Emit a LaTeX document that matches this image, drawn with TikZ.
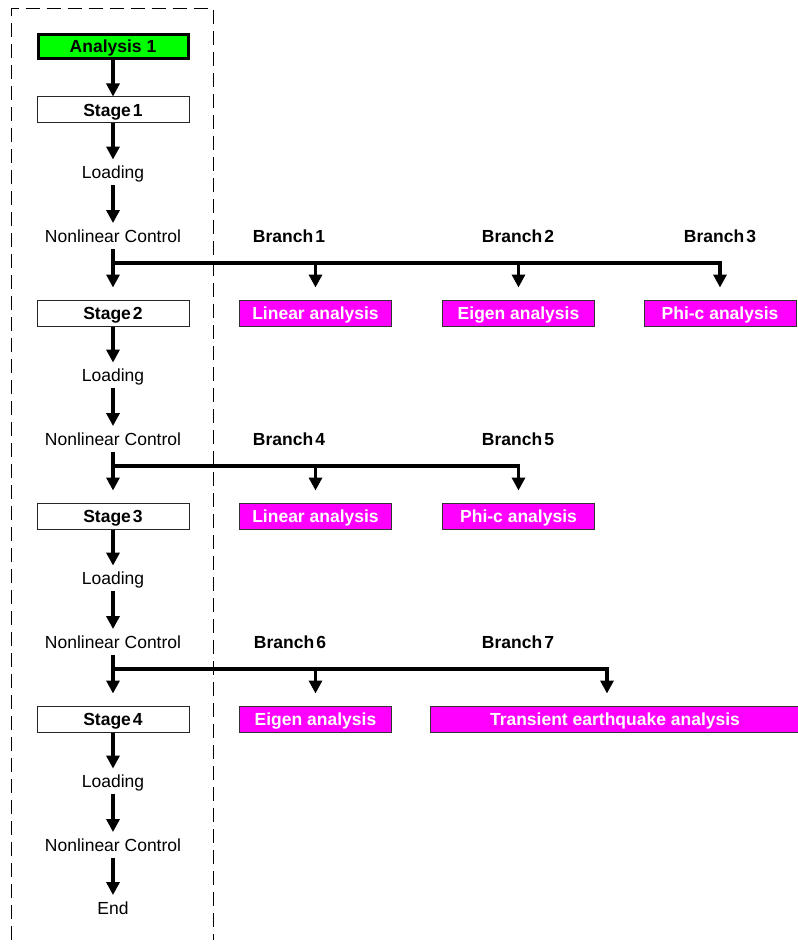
\documentclass[tikz,border=0pt]{standalone}
\usepackage{fontspec}
\setmainfont{Liberation Sans}
\usetikzlibrary{arrows.meta}
\definecolor{boxgreen}{rgb}{0,1,0}
\definecolor{boxmag}{rgb}{1,0,1}
\begin{document}
\begin{tikzpicture}[x=1pt,y=-1pt,
  every node/.style={font=\fontsize{17.5}{20}\selectfont, inner sep=0pt, text height=12.5pt, text depth=0pt},
  boldtext/.style={font=\fontsize{17.5}{20}\selectfont\bfseries},
  stagebox/.style={boldtext, draw=black!85, line width=1pt, fill=white, minimum width=152pt, minimum height=26pt},
  anbox/.style={boldtext, draw=black, line width=3pt, fill=boxgreen, minimum width=150pt, minimum height=24pt},
  magbox/.style={boldtext, text=white, draw=black!80, line width=1pt, fill=boxmag, minimum width=152pt, minimum height=26pt},
  conn/.style={line width=3.3pt, -{Triangle[width=13pt,length=13pt]}},
  frame/.style={line width=1pt, dash pattern=on 14pt off 7pt},
]
\useasboundingbox (0,0) rectangle (797,944);

% dashed frame
\draw[frame] (11.5,940) -- (11.5,9) -- (213.5,9) -- (213.5,940);

% main column
\node[anbox] (a1) at (113,46.5) {Analysis 1};

\node[stagebox] (s1) at (113,110) {Stage\hspace{2pt}1};
\node (ld1) at (113,172) {Loading};
\node (nc1) at (113,236) {Nonlinear Control};

\node[stagebox] (s2) at (113,313) {Stage\hspace{2pt}2};
\node (ld2) at (113,375) {Loading};
\node (nc2) at (113,439) {Nonlinear Control};

\node[stagebox] (s3) at (113,516) {Stage\hspace{2pt}3};
\node (ld3) at (113,578) {Loading};
\node (nc3) at (113,642) {Nonlinear Control};

\node[stagebox] (s4) at (113,719) {Stage\hspace{2pt}4};
\node (ld4) at (113,781) {Loading};
\node (nc4) at (113,845) {Nonlinear Control};
\node (end) at (113,908) {End};

% branch labels
\node[boldtext] (b1) at (289,236) {Branch\hspace{2pt}1};
\node[boldtext] (b2) at (518,236) {Branch\hspace{2pt}2};
\node[boldtext] (b3) at (720,236) {Branch\hspace{2pt}3};
\node[boldtext] (b4) at (289,439) {Branch\hspace{2pt}4};
\node[boldtext] (b5) at (518,439) {Branch\hspace{2pt}5};
\node[boldtext] (b6) at (290,642) {Branch\hspace{2pt}6};
\node[boldtext] (b7) at (518,642) {Branch\hspace{2pt}7};

% analysis boxes
\node[magbox] (m11) at (315.5,313) {Linear analysis};
\node[magbox] (m12) at (518.5,313) {Eigen analysis};
\node[magbox] (m13) at (720,313) {Phi-c analysis};
\node[magbox] (m21) at (315.5,516) {Linear analysis};
\node[magbox] (m22) at (518.5,516) {Phi-c analysis};
\node[magbox] (m31) at (315.5,719) {Eigen analysis};
\node[magbox, minimum width=370pt] (m32) at (615,719) {Transient earthquake analysis};

% junctions
\coordinate (j1) at (113,263);
\coordinate (j2) at (113,466);
\coordinate (j3) at (113,669);
\coordinate (t7) at ([xshift=-8pt]m32.north);

% main flow
\draw[conn] (a1) -- (s1);
\draw[conn, shorten >=6pt] (s1) -- (ld1);
\draw[conn, shorten <=7pt, shorten >=6.5pt] (ld1) -- (nc1);
\draw[conn, shorten <=7pt, shorten >=12pt] (nc1) -- (s2);
\draw[conn, shorten >=6pt] (s2) -- (ld2);
\draw[conn, shorten <=7pt, shorten >=6.5pt] (ld2) -- (nc2);
\draw[conn, shorten <=7pt, shorten >=12pt] (nc2) -- (s3);
\draw[conn, shorten >=6pt] (s3) -- (ld3);
\draw[conn, shorten <=7pt, shorten >=6.5pt] (ld3) -- (nc3);
\draw[conn, shorten <=7pt, shorten >=12pt] (nc3) -- (s4);
\draw[conn, shorten >=6pt] (s4) -- (ld4);
\draw[conn, shorten <=7pt, shorten >=6.5pt] (ld4) -- (nc4);
\draw[conn, shorten <=7pt, shorten >=6.5pt] (nc4) -- (end);

% branches
\draw[conn, shorten >=12pt] (j1) -| (m13);
\draw[conn, shorten >=12pt] (j1 -| m11) -- (m11);
\draw[conn, shorten >=12pt] (j1 -| m12) -- (m12);

\draw[conn, shorten >=12pt] (j2) -| (m22);
\draw[conn, shorten >=12pt] (j2 -| m21) -- (m21);

\draw[conn, shorten >=12pt] (j3) -| (t7);
\draw[conn, shorten >=12pt] (j3 -| m31) -- (m31);
\end{tikzpicture}
\end{document}
